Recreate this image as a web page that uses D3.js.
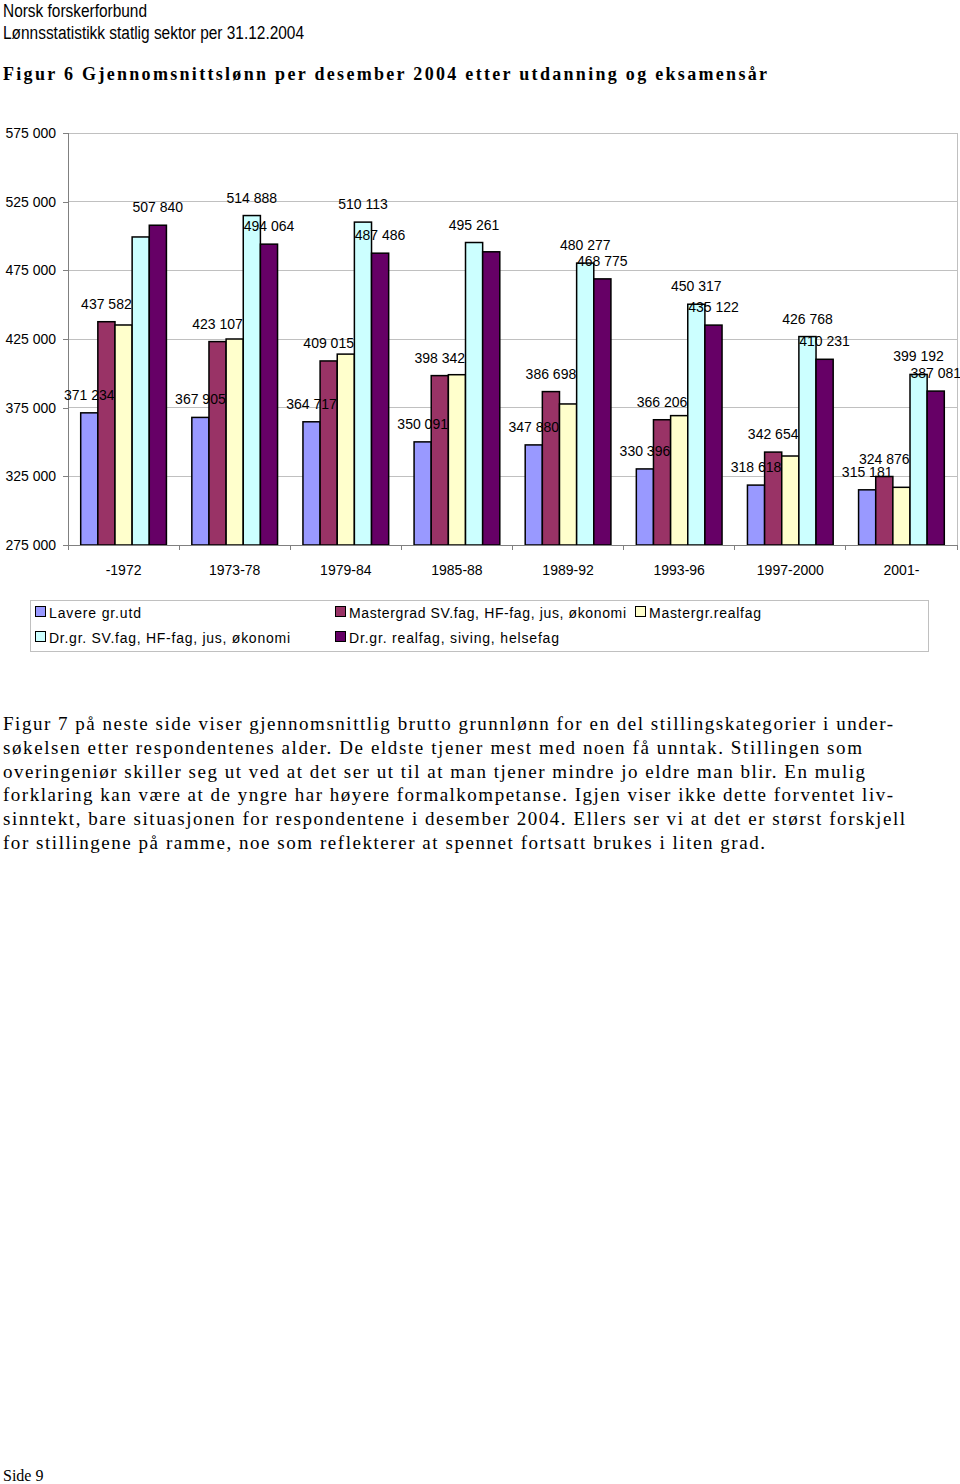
<!DOCTYPE html>
<html lang="no">
<head>
<meta charset="UTF-8">
<title>Figur 6 Gjennomsnittslønn</title>
<style>
    body { margin: 0; background: #fff; }
    svg { display: block; }
    .head { font-family: "Liberation Sans Narrow", "Liberation Sans", Arial, sans-serif; font-size: 18px; fill: #000; }
    .title { font-family: "Liberation Serif", "Times New Roman", serif; font-size: 18px; font-weight: bold; fill: #000; }
    .axis text { font-family: "Liberation Sans", Arial, sans-serif; font-size: 14px; fill: #000; }
    .axis path, .axis line { stroke: #808080; shape-rendering: crispEdges; }
    .grid line { stroke: #c0c0c0; shape-rendering: crispEdges; }
    .val { font-family: "Liberation Sans", Arial, sans-serif; font-size: 14px; fill: #000; text-anchor: middle; }
    .leg { font-family: "Liberation Sans", Arial, sans-serif; font-size: 14px; fill: #000; }
    .para { font-family: "Liberation Serif", "Times New Roman", serif; font-size: 19px; fill: #000; }
</style>
</head>
<body>
<div id="page"></div>
<script src="https://d3js.org/d3.v7.min.js"></script>
<script>
// categories (eksamensår)
const years = ["-1972", "1973-78", "1979-84", "1985-88", "1989-92", "1993-96", "1997-2000", "2001-"];

// series names
const seriesNames = [
    "Lavere gr.utd",
    "Mastergrad SV.fag, HF-fag, jus, økonomi",
    "Mastergr.realfag",
    "Dr.gr. SV.fag, HF-fag, jus, økonomi",
    "Dr.gr. realfag, siving, helsefag"
];
const seriesColors = ["#9999ff", "#993366", "#ffffcc", "#ccffff", "#660066"];

// values (kr) per series, unlabeled ones
const lavere      = [371234, 367905, 364717, 350091, 347880, 330396, 318618, 315181];
const masterSv    = [437582, 423107, 409015, 398342, 386698, 366206, 342654, 324876];
const masterReal  = [435200, 425000, 414000, 399000, 377700, 369200, 339800, 317000];
const drSv        = [499300, 514888, 510113, 495261, 480277, 450317, 426768, 399192];
const drReal      = [507840, 494064, 487486, 488500, 468775, 435122, 410231, 387081];

// which values carry a data label in the original
const lavereShow     = [1, 1, 1, 1, 1, 1, 1, 1];
const masterSvShow   = [1, 1, 1, 1, 1, 1, 1, 1];
const masterRealShow = [0, 0, 0, 0, 0, 0, 0, 0];
const drSvShow       = [0, 1, 1, 1, 1, 1, 1, 1];
const drRealShow     = [1, 1, 1, 0, 1, 1, 1, 1];

const yTicks = [275000, 325000, 375000, 425000, 475000, 525000, 575000];

const paraLines = [
    "Figur 7 på neste side viser gjennomsnittlig brutto grunnlønn for en del stillingskategorier i under-",
    "søkelsen etter respondentenes alder. De eldste tjener mest med noen få unntak. Stillingen som",
    "overingeniør skiller seg ut ved at det ser ut til at man tjener mindre jo eldre man blir. En mulig",
    "forklaring kan være at de yngre har høyere formalkompetanse. Igjen viser ikke dette forventet liv-",
    "sinntekt, bare situasjonen for respondentene i desember 2004. Ellers ser vi at det er størst forskjell",
    "for stillingene på ramme, noe som reflekterer at spennet fortsatt brukes i liten grad."
];
const paraWidths = [890, 859, 862, 890, 902, 762];

const series = [lavere, masterSv, masterReal, drSv, drReal];
const shows = [lavereShow, masterSvShow, masterRealShow, drSvShow, drRealShow];

const W = 960, H = 1484;
const svg = d3.select("#page").append("svg").attr("width", W).attr("height", H);

// page header
svg.append("text").attr("class", "head").attr("x", 3).attr("y", 17)
    .attr("textLength", 144).attr("lengthAdjust", "spacingAndGlyphs").text("Norsk forskerforbund");
svg.append("text").attr("class", "head").attr("x", 3).attr("y", 39)
    .attr("textLength", 301).attr("lengthAdjust", "spacingAndGlyphs").text("Lønnsstatistikk statlig sektor per 31.12.2004");

svg.append("text").attr("class", "title").attr("x", 3).attr("y", 80)
    .attr("textLength", 764).attr("lengthAdjust", "spacing")
    .text("Figur 6 Gjennomsnittslønn per desember 2004 etter utdanning og eksamensår");

// plot area
const plot = { left: 68, right: 957, top: 133, bottom: 545 };

const x0 = d3.scaleBand().domain(years).range([plot.left, plot.right])
    .paddingInner(0.2286).paddingOuter(0.1143);
const x1 = d3.scaleBand().domain(d3.range(series.length)).range([0, x0.bandwidth()]);
const groupStep = x0.step();

const y = d3.scaleLinear().domain([275000, 575000]).range([plot.bottom, plot.top]);

const nf = d3.formatLocale({ decimal: ",", thousands: " ", grouping: [3], currency: ["", " kr"] }).format(",d");

// gridlines
svg.append("g").attr("class", "grid")
    .selectAll("line").data(yTicks.slice(1)).join("line")
    .attr("x1", plot.left).attr("x2", plot.right)
    .attr("y1", d => y(d)).attr("y2", d => y(d));
svg.append("line").attr("x1", plot.right).attr("x2", plot.right)
    .attr("y1", plot.top).attr("y2", plot.bottom)
    .attr("stroke", "#c0c0c0").attr("shape-rendering", "crispEdges");

// bars
const groups = svg.append("g").selectAll("g").data(years).join("g")
    .attr("transform", d => `translate(${x0(d)},0)`);

groups.selectAll("rect")
    .data((d, i) => series.map((s, k) => ({ k: k, v: s[i] })))
    .join("rect")
    .attr("x", d => x1(d.k))
    .attr("y", d => y(d.v))
    .attr("width", x1.bandwidth())
    .attr("height", d => plot.bottom - y(d.v))
    .attr("fill", d => seriesColors[d.k])
    .attr("stroke", "#000")
    .attr("stroke-width", 1.5);

// axes
const yAxis = d3.axisLeft(y).tickValues(yTicks).tickSize(5).tickPadding(7).tickFormat(nf);
svg.append("g").attr("class", "axis").attr("transform", `translate(${plot.left},0)`).call(yAxis)
    .call(g => g.select(".domain").attr("d", `M0,${plot.top}V${plot.bottom}`));

const xAxis = svg.append("g").attr("class", "axis");
xAxis.append("line").attr("x1", plot.left).attr("x2", plot.right)
    .attr("y1", plot.bottom).attr("y2", plot.bottom);
xAxis.selectAll("line.tick").data(d3.range(years.length + 1)).join("line")
    .attr("class", "tick")
    .attr("x1", i => plot.left + i * groupStep).attr("x2", i => plot.left + i * groupStep)
    .attr("y1", plot.bottom).attr("y2", plot.bottom + 5);
xAxis.selectAll("text").data(years).join("text")
    .attr("x", d => x0(d) + x0.bandwidth() / 2)
    .attr("y", plot.bottom + 30)
    .attr("text-anchor", "middle")
    .text(d => d);

// data labels, drawn on top
const labels = svg.append("g");
groups.each(function (d, i) {
    series.forEach((s, k) => {
        if (!shows[k][i]) return;
        labels.append("text").attr("class", "val")
            .attr("x", x0(d) + x1(k) + x1.bandwidth() / 2)
            .attr("y", y(s[i]) - 13)
            .text(nf(s[i]));
    });
});

// legend
svg.append("rect").attr("x", 30.5).attr("y", 600.5).attr("width", 898).attr("height", 51)
    .attr("fill", "none").attr("stroke", "#c0c0c0");
const legendPos = [[35, 613], [335, 613], [635, 613], [35, 638], [335, 638]];
const legendWidths = [92, 277, 112, 241, 210];
seriesNames.forEach((name, k) => {
    const [lx, ly] = legendPos[k];
    svg.append("rect").attr("x", lx + 0.5).attr("y", ly - 6.5).attr("width", 10).attr("height", 10)
        .attr("fill", seriesColors[k]).attr("stroke", "#000").attr("stroke-width", 1);
    svg.append("text").attr("class", "leg").attr("x", lx + 14).attr("y", ly + 5)
        .attr("textLength", legendWidths[k]).attr("lengthAdjust", "spacing")
        .text(name);
});

// paragraph
paraLines.forEach((line, i) => {
    svg.append("text").attr("class", "para").attr("x", 3).attr("y", 730 + i * 23.8)
        .attr("textLength", paraWidths[i]).attr("lengthAdjust", "spacing")
        .text(line);
});

svg.append("text").attr("class", "para").attr("x", 3).attr("y", 1481)
    .style("font-size", "16px").text("Side 9");
</script>
</body>
</html>
